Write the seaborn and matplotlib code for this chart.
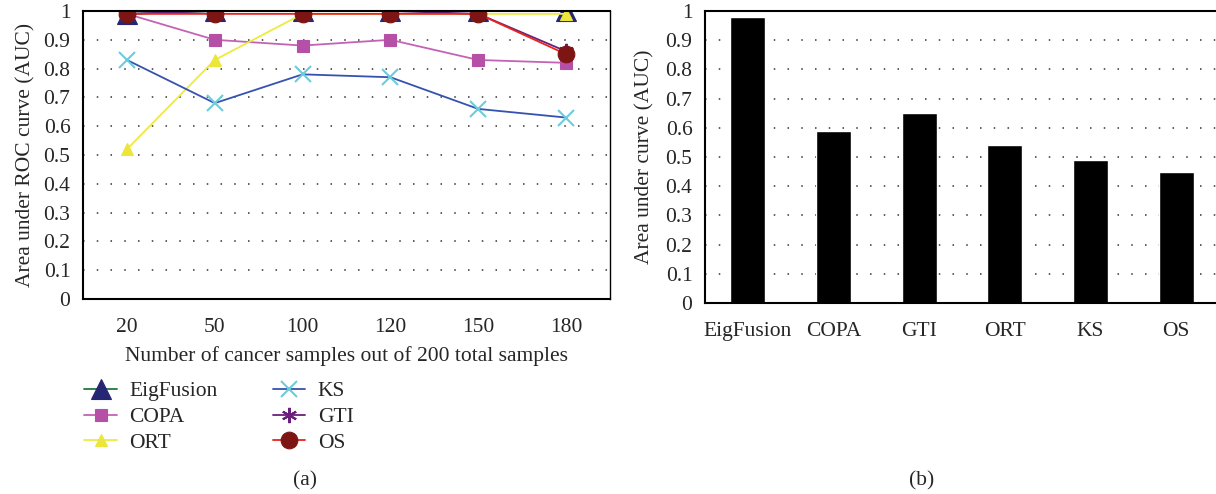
import matplotlib
matplotlib.use('Agg')
import matplotlib.pyplot as plt
import seaborn as sns
import numpy as np

# data
samples = ['20', '50', '100', '120', '150', '180']
eigfusion = [0.99, 1.0, 1.0, 1.0, 1.0, 1.0]
copa = [0.99, 0.90, 0.88, 0.90, 0.83, 0.82]
ort = [0.52, 0.83, 0.99, 0.99, 0.99, 0.99]
ks = [0.83, 0.68, 0.78, 0.77, 0.66, 0.63]
gti = [0.99, 1.0, 1.0, 1.0, 0.99, 0.86]
os_ = [0.99, 0.99, 0.99, 0.99, 0.99, 0.85]

methods = ['EigFusion', 'COPA', 'GTI', 'ORT', 'KS', 'OS']
overall_auc = [0.98, 0.59, 0.65, 0.54, 0.49, 0.45]

FS = 15.5
sns.set_theme(style='white')
plt.rcParams['font.family'] = ['Liberation Serif', 'DejaVu Serif']
plt.rcParams.update({'font.size': FS, 'axes.labelsize': FS, 'xtick.labelsize': FS,
                     'ytick.labelsize': FS, 'legend.fontsize': FS})

fig = plt.figure(figsize=(12.16, 4.94), dpi=100)
W, H = 1216, 494
ax1 = fig.add_axes([83 / W, 1 - 299 / H, (610 - 83) / W, (299 - 11) / H])
ax2 = fig.add_axes([705 / W, 1 - 303 / H, (1219 - 705) / W, (303 - 11) / H])

# series styles: (label, values, line colour, marker, face, edge, size)
series = [
    ('EigFusion', eigfusion, '#1d7a3c', '^', '#262673', '#262673', 14),
    ('COPA', copa, '#c463b5', 's', '#b650a6', '#b650a6', 9),
    ('ORT', ort, '#eeea3c', '^', '#ece63a', '#ece63a', 9),
    ('KS', ks, '#3552b0', 'x', '#6cccdc', '#6cccdc', 11),
    ('GTI', gti, '#6a1f7c', (6, 2, 0), '#6a1f7c', '#6a1f7c', 11),
    ('OS', os_, '#e8241f', 'o', '#7d1515', '#7d1515', 12),
]

pos = np.arange(len(samples))
for label, vals, lc, mk, mf, me, ms in series:
    sns.lineplot(x=pos, y=vals, ax=ax1, color=lc, marker=mk, markerfacecolor=mf,
                 markeredgecolor=me, markersize=ms, markeredgewidth=1.5 if mk in ('x', (6, 2, 0)) else 0.8,
                 linewidth=1.3, label=label, legend=False)

ax1.set_xlim(-0.5, len(samples) - 0.5)
ax1.set_ylim(0, 1)
ax1.set_xticks(pos)
ax1.set_xticklabels(samples)
ax1.set_xticks(np.arange(-0.5, len(samples)), minor=True)
ax1.tick_params(axis='x', which='major', length=0, pad=14)
ax1.tick_params(axis='x', which='minor', length=6, width=1, direction='out', color='black')
ax1.set_xlabel('Number of cancer samples out of 200 total samples', labelpad=6)
ax1.set_ylabel('Area under ROC curve (AUC)', labelpad=6)

yt = np.round(np.arange(0, 1.01, 0.1), 1)
ylabels = ['0'] + [f'{v:.1f}' for v in yt[1:-1]] + ['1']
for ax in (ax1, ax2):
    ax.set_yticks(yt)
    ax.set_yticklabels(ylabels)
    ax.tick_params(axis='y', length=6, width=1, direction='out', color='black', pad=3)
    ax.grid(False)
    for v in yt[1:-1]:
        ax.axhline(v, color='#333333', linestyle=(0, (1, 8)), linewidth=1.1, zorder=0)
    for s in ax.spines.values():
        s.set_color('black')
        s.set_linewidth(1.5)

ax1.spines['right'].set_linewidth(1.0)

# legend below panel (a)
handles, labels = ax1.get_legend_handles_labels()
fig.legend(handles, labels, ncol=2, loc='upper left', bbox_to_anchor=(65 / W, 1 - 362 / H),
           frameon=False, handlelength=1.5, handletextpad=0.6, columnspacing=2.55,
           labelspacing=0.26, fontsize=FS)

# panel (b): bars
sns.barplot(x=methods, y=overall_auc, ax=ax2, color='black', width=0.41, saturation=1)
ax2.set_xlim(-0.5, len(methods) - 0.5)
ax2.set_ylim(0, 1)
ax2.set_xticks(np.arange(len(methods)))
ax2.set_xticks(np.arange(-0.5, len(methods)), minor=True)
ax2.tick_params(axis='x', which='major', length=0, pad=14)
ax2.tick_params(axis='x', which='minor', length=6, width=1, direction='out', color='black')
ax2.set_ylabel('Area under curve (AUC)', labelpad=8)
ax2.spines['right'].set_visible(False)

fig.text(305 / W, 1 - 481 / H, '(a)', ha='center', va='center', fontsize=FS)
fig.text(922 / W, 1 - 481 / H, '(b)', ha='center', va='center', fontsize=FS)

fig.savefig('out.png', dpi=100)
